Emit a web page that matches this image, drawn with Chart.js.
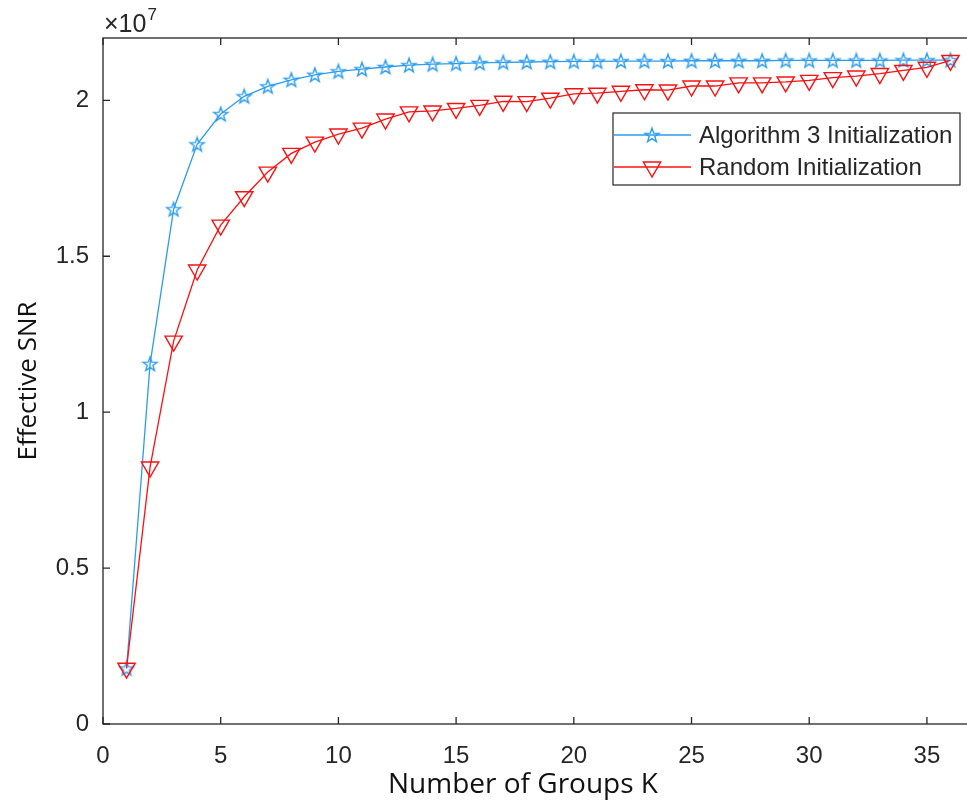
<!DOCTYPE html>
<html>
<head>
<meta charset="utf-8">
<script src="https://cdn.jsdelivr.net/npm/chart.js@4.4.1/dist/chart.umd.min.js"></script>
<style>
html,body{margin:0;padding:0;background:#fff;overflow:hidden;}
#wrap{width:975px;height:807px;}
</style>
</head>
<body>
<div id="wrap"><canvas id="snrChart" width="975" height="807"></canvas></div>
<script>
// number of groups K
const groupsK=[1,2,3,4,5,6,7,8,9,10,11,12,13,14,15,16,17,18,19,20,21,22,23,24,25,26,27,28,29,30,31,32,33,34,35,36];

// effective SNR, in units of 1e7
const algo3Snr=[0.178,1.155,1.651,1.859,1.956,2.013,2.045,2.066,2.082,2.093,2.100,2.107,2.113,2.116,2.118,2.120,2.122,2.123,2.124,2.125,2.125,2.126,2.126,2.126,2.127,2.127,2.127,2.127,2.128,2.128,2.128,2.128,2.128,2.129,2.129,2.129];
const randomSnr=[0.179,0.824,1.228,1.456,1.600,1.691,1.770,1.830,1.866,1.892,1.911,1.940,1.963,1.966,1.974,1.984,1.997,1.996,2.007,2.021,2.023,2.029,2.034,2.033,2.046,2.046,2.056,2.056,2.059,2.064,2.073,2.078,2.086,2.096,2.106,2.128];

const xTickValues=[0,5,10,15,20,25,30,35];
const yTickValues=[0,0.5,1,1.5,2];
const yTickLabels=["0","0.5","1","1.5","2"];
const seriesNames=["Algorithm 3 Initialization","Random Initialization"];

const blue="#2b9cf2";
const red="#ff1010";
const axisColor="#262626";
const tickFont="'Liberation Sans', Arial, sans-serif";
const titleFont="'Open Sans', 'Noto Sans', sans-serif";

// hollow pentagram marker
function makeStar(color){
  const c=document.createElement("canvas");
  c.width=18;c.height=18;
  const g=c.getContext("2d");
  g.strokeStyle=color;
  g.lineWidth=1.4;
  g.beginPath();
  for(let i=0;i<10;i++){
    let r=i%2===0?7.4:3.0;
    let a=-Math.PI/2+i*Math.PI/5;
    let px=9+r*Math.cos(a),py=9.6+r*Math.sin(a);
    if(i===0)g.moveTo(px,py);else g.lineTo(px,py);
  }
  g.closePath();
  g.stroke();
  return c;
}
const starImg=makeStar(blue);

function toPoints(ys){
  return groupsK.map((k,i)=>({x:k,y:ys[i]}));
}

// box, inward ticks, exponent, axis titles and legend
const matlabAxes={
  id:"matlabAxes",
  afterDraw(chart){
    const ctx=chart.ctx,a=chart.chartArea;
    const xs=chart.scales.x,ys=chart.scales.y;
    ctx.save();
    ctx.strokeStyle=axisColor;
    ctx.lineWidth=1.3;
    ctx.strokeRect(a.left,a.top,a.right-a.left,a.bottom-a.top);
    ctx.beginPath();
    xTickValues.forEach(v=>{
      const px=xs.getPixelForValue(v);
      ctx.moveTo(px,a.bottom);ctx.lineTo(px,a.bottom-7);
      ctx.moveTo(px,a.top);ctx.lineTo(px,a.top+7);
    });
    yTickValues.forEach(v=>{
      const py=ys.getPixelForValue(v);
      ctx.moveTo(a.left,py);ctx.lineTo(a.left+7,py);
      ctx.moveTo(a.right,py);ctx.lineTo(a.right-7,py);
    });
    ctx.stroke();

    // x10^7 exponent
    ctx.fillStyle=axisColor;
    ctx.textAlign="left";
    ctx.textBaseline="alphabetic";
    ctx.font="25px "+tickFont;
    ctx.fillText("\u00d710",a.left+1,a.top-6);
    const w=ctx.measureText("\u00d710").width;
    ctx.font="17px "+tickFont;
    ctx.fillText("7",a.left+2+w,a.top-18);

    // axis titles
    ctx.fillStyle="#111";
    ctx.font="28px "+titleFont;
    ctx.textAlign="center";
    ctx.fillText("Number of Groups K",523,793);
    ctx.font="26px "+titleFont;
    ctx.save();
    ctx.translate(36,(a.top+a.bottom)/2);
    ctx.rotate(-Math.PI/2);
    ctx.fillText("Effective SNR",0,0);
    ctx.restore();

    // legend
    const lx=613,ly=113,lw=347,lh=72;
    ctx.fillStyle="#fff";
    ctx.fillRect(lx,ly,lw,lh);
    ctx.strokeStyle=axisColor;
    ctx.lineWidth=1.2;
    ctx.strokeRect(lx,ly,lw,lh);
    const rows=[ly+22,ly+54];
    const ds=chart.data.datasets;
    [1,0].forEach((di,r)=>{
      const d=ds[di],y=rows[r];
      ctx.strokeStyle=d.borderColor;
      ctx.lineWidth=d.borderWidth;
      ctx.beginPath();ctx.moveTo(lx+1,y);ctx.lineTo(lx+78,y);ctx.stroke();
      if(d.pointStyle===starImg){
        ctx.drawImage(starImg,lx+39-9,y-9);
      }else{
        ctx.lineWidth=d.pointBorderWidth;
        const rr=d.pointRadius;
        ctx.beginPath();
        ctx.moveTo(lx+39,y+rr);
        ctx.lineTo(lx+39-rr*0.866,y-rr/2);
        ctx.lineTo(lx+39+rr*0.866,y-rr/2);
        ctx.closePath();ctx.stroke();
      }
      ctx.fillStyle=axisColor;
      ctx.font="24px "+tickFont;
      ctx.textAlign="left";
      ctx.textBaseline="middle";
      ctx.fillText(d.label,lx+86,y+1);
    });
    ctx.restore();
  }
};

new Chart(document.getElementById("snrChart"),{
  type:"line",
  data:{
    datasets:[{
      label:seriesNames[1],
      data:toPoints(randomSnr),
      borderColor:red,
      backgroundColor:"transparent",
      borderWidth:1.3,
      pointStyle:"triangle",
      rotation:180,
      pointRadius:10,
      pointBorderWidth:1.4,
      pointBorderColor:red,
      pointBackgroundColor:"transparent",
      tension:0,
      order:0
    },{
      label:seriesNames[0],
      data:toPoints(algo3Snr),
      borderColor:blue,
      backgroundColor:"transparent",
      borderWidth:1.3,
      pointStyle:starImg,
      pointRadius:8,
      tension:0,
      order:1
    }]
  },
  options:{
    responsive:false,
    animation:false,
    layout:{autoPadding:false,padding:{top:38,right:1,left:0,bottom:0}},
    plugins:{legend:{display:false},tooltip:{enabled:false}},
    scales:{
      x:{
        type:"linear",
        min:0,max:37,
        grid:{display:false,drawTicks:false},
        border:{display:false},
        afterBuildTicks(s){s.ticks=xTickValues.map(v=>({value:v}));},
        afterFit(s){s.height=83;s.paddingLeft=0;s.paddingRight=0;},
        ticks:{
          padding:18,
          color:axisColor,
          font:{family:tickFont,size:24},
          maxRotation:0,
          callback:v=>String(v)
        }
      },
      y:{
        min:0,max:2.2,
        grid:{display:false,drawTicks:false},
        border:{display:false},
        afterBuildTicks(s){s.ticks=yTickValues.map(v=>({value:v}));},
        afterFit(s){s.width=103;s.paddingTop=0;s.paddingBottom=0;},
        ticks:{
          padding:14,
          color:axisColor,
          font:{family:tickFont,size:24},
          callback:v=>yTickLabels[yTickValues.indexOf(v)]
        }
      }
    }
  },
  plugins:[matlabAxes]
});
</script>
</body>
</html>
